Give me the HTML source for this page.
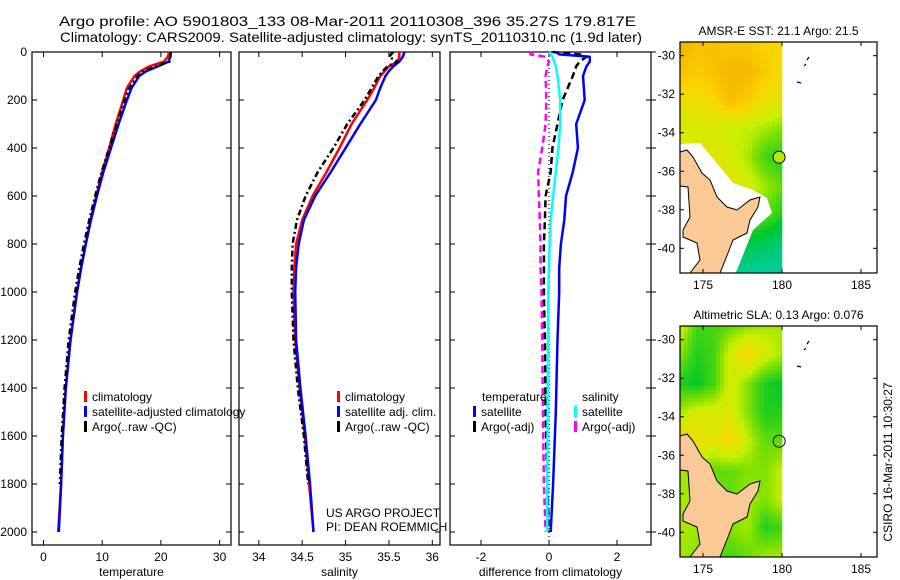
<!DOCTYPE html>
<html><head><meta charset="utf-8">
<style>
html,body{margin:0;padding:0;background:#fff;}
svg{display:block;font-family:"Liberation Sans",sans-serif;}
text{font-size:12px;fill:#000;}
</style></head>
<body>
<svg id="fig" width="900" height="580" viewBox="0 0 900 580" xmlns="http://www.w3.org/2000/svg">
<text x="59" y="26" textLength="577" lengthAdjust="spacingAndGlyphs" style="font-size:14px">Argo profile: AO 5901803_133 08-Mar-2011 20110308_396 35.27S 179.817E</text>
<text x="60" y="42" textLength="582" lengthAdjust="spacingAndGlyphs" style="font-size:14px">Climatology: CARS2009. Satellite-adjusted climatology: synTS_20110310.nc (1.9d later)</text>
<g id="p1"></g>
<g id="p2"></g>
<g id="p3"></g>
<g id="m1"></g>
<g id="m2"></g>
<text transform="translate(892,462) rotate(-90)" text-anchor="middle">CSIRO 16-Mar-2011 10:30:27</text>
</svg>
<script>
// ---- profile data ----
const depths = [0,20,40,60,80,100,150,200,300,400,500,600,700,800,900,1000,1200,1400,1600,1800,2000];
const tempClim = [21.4,21.2,20.5,18,16.5,15.5,14.2,13.6,12.3,11.2,10.0,9.0,8.0,7.2,6.4,5.7,4.6,3.8,3.3,3.0,2.5];
const tempSat  = [21.7,21.6,21.3,19.5,17.5,16.3,15.0,14.2,12.8,11.5,10.2,9.1,8.1,7.2,6.4,5.7,4.6,3.8,3.3,3.0,2.6];
const tempArgo = [21.6,21.6,21.5,19,17,16,14.6,13.8,12.5,11.2,9.9,8.8,7.8,6.9,6.1,5.4,4.3,3.6,3.1,2.8,2.5];
const salClim = [35.62,35.62,35.6,35.5,35.45,35.4,35.33,35.25,35.07,34.93,34.78,34.62,34.5,34.43,34.41,34.4,34.42,34.47,34.53,34.58,34.63];
const salSat  = [35.68,35.66,35.62,35.55,35.5,35.46,35.4,35.35,35.17,35.0,34.83,34.65,34.52,34.46,34.43,34.42,34.43,34.48,34.54,34.59,34.63];
const salArgo = [35.55,35.5,35.6,35.48,35.43,35.38,35.3,35.22,35.02,34.86,34.68,34.54,34.44,34.39,34.38,34.38,34.4,34.45,34.52,34.57,34.62];
const diffDepths = [0,10,20,40,60,100,200,300,400,500,600,700,800,900,1000,1200,1500,1800,2000];
const diffTempSat  = [0.2,0.3,1.2,1.2,1.1,1.0,1.05,0.8,0.85,0.7,0.5,0.45,0.35,0.3,0.3,0.25,0.2,0.12,0.05];
const diffTempArgo = [0.1,0.9,1.1,0.9,0.8,0.7,0.4,0.25,0.1,0.05,-0.1,-0.12,-0.15,-0.15,-0.15,-0.12,-0.1,-0.05,0];
const diffSalSat   = [0,0.05,0.1,0.15,0.2,0.25,0.33,0.33,0.28,0.2,0.12,0.05,0.02,0,-0.02,-0.03,-0.04,-0.05,-0.05];
const diffSalArgo  = [-0.5,-0.55,-0.1,0,-0.05,-0.1,-0.08,-0.1,-0.2,-0.32,-0.3,-0.27,-0.25,-0.25,-0.22,-0.2,-0.18,-0.15,-0.1];
const depthTicks = [0,200,400,600,800,1000,1200,1400,1600,1800,2000];
const tempTicks = [0,10,20,30];
const salTicks = [34,34.5,35,35.5,36];
const diffTicks = [-2,0,2];
// ---- map data (coarse grids, north->south rows, west->east cols) ----
const sstGrid = [
 [0.95,0.85,0.85,0.8,0.8,0.75,0.75],
 [0.85,0.8,0.85,0.9,0.9,0.8,0.75],
 [0.7,0.7,0.75,0.88,0.8,0.7,0.65],
 [0.6,0.6,0.6,0.55,0.55,0.5,0.45],
 [0.6,0.6,0.65,0.6,0.5,0.35,0.3],
 [0.6,0.6,0.65,0.65,0.6,0.5,0.4],
 [0.55,0.55,0.55,0.5,0.45,0.4,0.3],
 [0.2,0.2,0.2,0.2,0.2,0.15,0.1],
 [0.1,0.1,0.1,0.05,0.0,0.0,0.0]];
const slaGrid = [
 [0.6,0.35,0.35,0.4,0.45,0.5,0.5],
 [0.45,0.3,0.35,0.6,0.75,0.6,0.5],
 [0.3,0.25,0.35,0.6,0.45,0.3,0.25],
 [0.5,0.6,0.6,0.6,0.45,0.3,0.3],
 [0.75,0.7,0.65,0.75,0.55,0.4,0.4],
 [0.5,0.45,0.4,0.4,0.45,0.45,0.55],
 [0.5,0.5,0.45,0.4,0.5,0.45,0.55],
 [0.5,0.5,0.45,0.45,0.5,0.3,0.35],
 [0.5,0.45,0.4,0.35,0.4,0.5,0.5]];
const latTicks = [-30,-32,-34,-36,-38,-40];
const lonTicks = [175,180,185];

const NS='http://www.w3.org/2000/svg';
function mk(tag, attrs, parent){const e=document.createElementNS(NS,tag);for(const k in attrs)e.setAttribute(k,attrs[k]);parent.appendChild(e);return e;}
const Y0=52, YS=0.24, PT=52, PB=545;
const yD = d => Y0 + d*YS;

function panel(g, left, right, xScale, ticks, label, showY, rightTicks){
  const fr = mk('rect',{x:left,y:PT,width:right-left,height:PB-PT,fill:'none',stroke:'#000','stroke-width':1.2},g);
  
  
  ticks.forEach(t=>{
    const x=xScale(t);
    mk('line',{x1:x,y1:PB,x2:x,y2:PB-5,stroke:'#000'},g);
    mk('line',{x1:x,y1:PT,x2:x,y2:PT+5,stroke:'#000'},g);
    const tx=mk('text',{x:x,y:PB+16,'text-anchor':'middle'},g); tx.textContent=t;
    
    
  });
  depthTicks.forEach(d=>{
    const y=yD(d);
    mk('line',{x1:left,y1:y,x2:left+5,y2:y,stroke:'#000'},g);
    mk('line',{x1:right,y1:y,x2:right-5,y2:y,stroke:'#000'},g);
    if(showY){const tx=mk('text',{x:left-5,y:y+4,'text-anchor':'end'},g);tx.textContent=d;
      
      }
    if(rightTicks){mk('line',{x1:right,y1:y,x2:right+5,y2:y,stroke:'#000'},g);}
  });
  const xl=mk('text',{x:(left+right)/2,y:PB+31,'text-anchor':'middle'},g); xl.textContent=label;
  
  
}
function line(g, xs, ds, xScale, color, dash, name, w){
  const pts = xs.map((v,i)=>xScale(v).toFixed(1)+','+yD(ds[i]).toFixed(1)).join(' ');
  const p=mk('polyline',{points:pts,fill:'none',stroke:color,'stroke-width':w||2.5,'stroke-dasharray':dash||'none','stroke-linejoin':'round'},g);
  
  
}
function legend(g, x, y, items){
  items.forEach((it,i)=>{
    const yy=y+i*15;
    mk('rect',{x:x,y:yy-10,width:3,height:11,fill:it[1]},g);
    const t=mk('text',{x:x+8,y:yy},g); t.textContent=it[0];
    
    
  });
}
// Panel 1
const g1=document.getElementById('p1');
const xT = v => 43.5 + v*5.87;
panel(g1,32,231,xT,tempTicks,'temperature',true,false);
line(g1,tempClim,depths,xT,'#f00',null,'temp-climatology-line');
line(g1,tempSat,depths,xT,'#00f',null,'temp-satellite-line');
line(g1,tempArgo.slice(0,20),depths.slice(0,20),xT,'#000','6,3,2,3','temp-argo-line');
legend(g1,84,401,[['climatology','#f00'],['satellite-adjusted climatology','#00f'],['Argo(..raw -QC)','#000']]);
// Panel 2
const g2=document.getElementById('p2');
const xS = v => 258.8 + (v-34)*86.75;
panel(g2,239,440,xS,salTicks,'salinity',false,false);
line(g2,salClim,depths,xS,'#f00',null,'sal-climatology-line');
line(g2,salSat,depths,xS,'#00f',null,'sal-satellite-line');
line(g2,salArgo.slice(0,20),depths.slice(0,20),xS,'#000','6,3,2,3','sal-argo-line');
legend(g2,337,401,[['climatology','#f00'],['satellite adj. clim.','#00f'],['Argo(..raw -QC)','#000']]);
let t=mk('text',{x:326,y:517},g2); t.textContent='US ARGO PROJECT';
 
t=mk('text',{x:326,y:531},g2); t.textContent='PI: DEAN ROEMMICH';
 
// Panel 3
const g3=document.getElementById('p3');
const xD = v => 549 + v*34;
panel(g3,450,651,xD,diffTicks,'difference from climatology',false,true);
mk('line',{x1:xD(0),y1:PT,x2:xD(0),y2:PB,stroke:'#000','stroke-dasharray':'1,3','stroke-width':1.2},g3);
line(g3,diffSalArgo,diffDepths,xD,'#f0f','7,4','diff-sal-argo-line');
line(g3,diffTempArgo,diffDepths,xD,'#000','7,4','diff-temp-argo-line');
line(g3,diffSalSat,diffDepths,xD,'#0ff',null,'diff-sal-satellite-line');
line(g3,diffTempSat,diffDepths,xD,'#00f',null,'diff-temp-satellite-line');
t=mk('text',{x:482,y:401},g3); t.textContent='temperature';
 
t=mk('text',{x:582,y:401},g3); t.textContent='salinity';
 
legend(g3,473,416,[['satellite','#00f'],['Argo(-adj)','#000']]);
legend(g3,574,416,[['satellite','#0ff'],['Argo(-adj)','#f0f']]);

// ---- maps ----
function cmap(v){
  const st=[[0,[0,205,160]],[0.25,[0,200,40]],[0.45,[130,225,0]],[0.55,[200,240,0]],[0.75,[250,215,0]],[1,[245,160,0]]];
  v=Math.max(0,Math.min(1,v));
  for(let i=1;i<st.length;i++){ if(v<=st[i][0]){const a=st[i-1],b=st[i],f=(v-a[0])/(b[0]-a[0]);
    return 'rgb('+a[1].map((c,k)=>Math.round(c+(b[1][k]-c)*f)).join(',')+')';}}
  return 'rgb(245,160,0)';
}
function map(g, top, grid, title, dotFill, masked){
  const left=680, right=877, bottom=top+231;
  const lonX = lo => 782 + (lo-180)*15.8;
  const latY = la => top+13.7 + (-30-la)*19.26;
  const dataR = lonX(180);
  const rows=grid.length, cols=grid[0].length;
  const cells=mk('g',{},g);
  
  
  const cs=4;
  for(let y=top;y<bottom;y+=cs){
    for(let x=left;x<dataR;x+=cs){
      const fy=(y+cs/2-top)/(bottom-top)*(rows-1), fx=(x+cs/2-left)/(dataR-left)*(cols-1);
      const r0=Math.floor(fy), c0=Math.floor(fx), r1=Math.min(r0+1,rows-1), c1=Math.min(c0+1,cols-1);
      const ay=fy-r0, ax=fx-c0;
      const v=(grid[r0][c0]*(1-ax)+grid[r0][c1]*ax)*(1-ay)+(grid[r1][c0]*(1-ax)+grid[r1][c1]*ax)*ay;
      mk('rect',{x:x,y:y,width:Math.min(cs,dataR-x)+0.3,height:Math.min(cs,bottom-y)+0.3,fill:cmap(v)},cells);
    }
  }
  const dy = top-42;
  const P = arr => arr.map(p=>p[0]+','+(p[1]+dy)).join(' ');
  if(masked){
    const m=mk('polygon',{points:P([[680,144],[700,143],[720,167],[733,183],[753,190],[767,198],[772,213],[753,230],[737,270],[735,273],[680,273]]),fill:'#fff'},g);
    
    
  }
  const land=mk('polygon',{points:P([[680,152],[687,150],[693,157],[702,173],[710,180],[717,197],[727,207],[737,210],[750,200],[760,197],[758,207],[750,220],[747,233],[733,240],[728,253],[720,273],[690,273],[700,260],[697,243],[683,237],[683,230],[690,217],[688,187],[680,186]]),fill:'#fbc995',stroke:'#000','stroke-width':1},g);
  
  
  mk('path',{d:'M807,'+(60+dy)+' l2,-3 M804,'+(66+dy)+' l2,-2 M797,'+(82+dy)+' l4,1',stroke:'#000','stroke-width':1.2,fill:'none'},g);
  const fr=mk('rect',{x:left,y:top,width:right-left,height:bottom-top,fill:'none',stroke:'#000','stroke-width':1.2},g);
  
  
  latTicks.forEach(la=>{
    const y=latY(la);
    mk('line',{x1:left,y1:y,x2:left+4,y2:y,stroke:'#000'},g);
    mk('line',{x1:right,y1:y,x2:right-4,y2:y,stroke:'#000'},g);
    const tx=mk('text',{x:left-5,y:y+4,'text-anchor':'end'},g); tx.textContent=la;
    
    
  });
  lonTicks.forEach(lo=>{
    const x=lonX(lo);
    mk('line',{x1:x,y1:top,x2:x,y2:top+4,stroke:'#000'},g);
    mk('line',{x1:x,y1:bottom,x2:x,y2:bottom-4,stroke:'#000'},g);
    const tx=mk('text',{x:x,y:bottom+16,'text-anchor':'middle'},g); tx.textContent=lo;
    
    
  });
  const tt=mk('text',{x:(left+right)/2,y:top-7,'text-anchor':'middle'},g); tt.textContent=title;
  
  
  const dot=mk('circle',{cx:lonX(179.817),cy:latY(-35.27),r:6,fill:dotFill,stroke:'#000','stroke-width':1},g);
  
  
}
map(document.getElementById('m1'),42,sstGrid,'AMSR-E SST: 21.1 Argo: 21.5','rgb(185,235,0)',true);
map(document.getElementById('m2'),326,slaGrid,'Altimetric SLA: 0.13 Argo: 0.076','none',false);
</script>
</body></html>
